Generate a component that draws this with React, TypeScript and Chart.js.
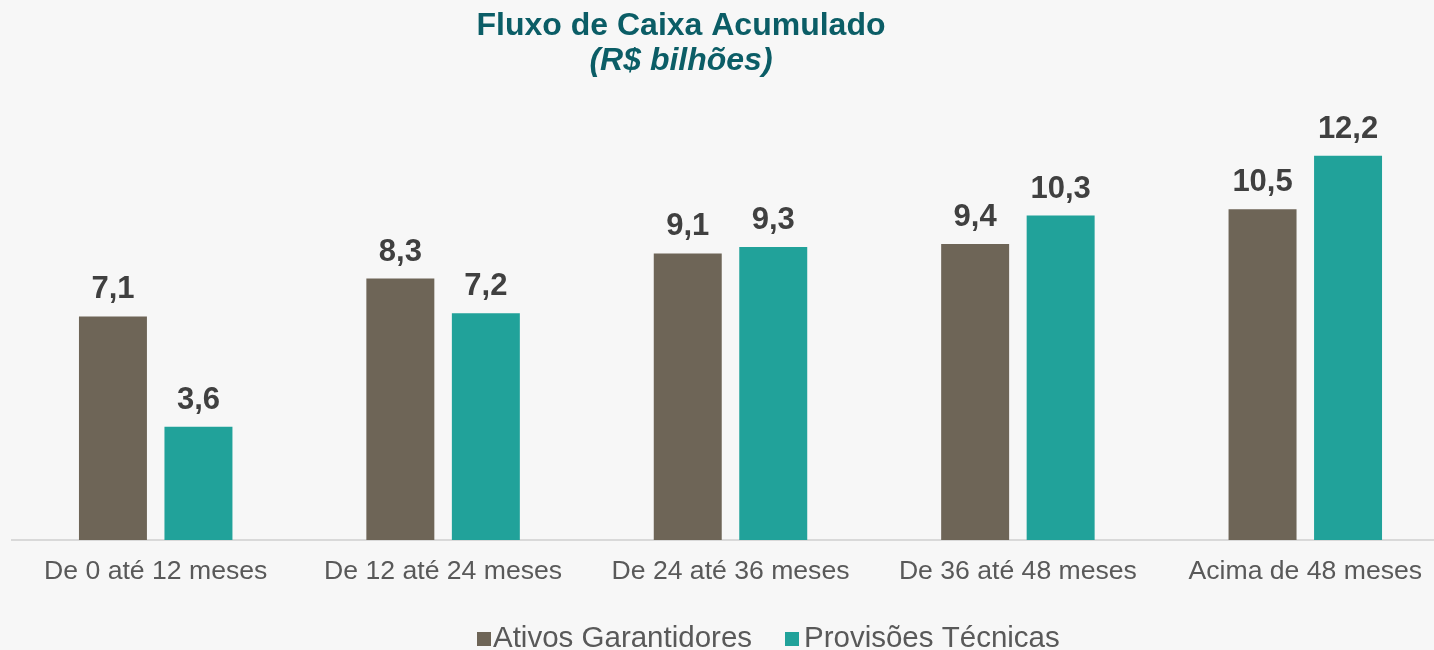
import React, { useEffect, useRef } from "react";
import { Chart, registerables } from "chart.js";

Chart.register(...registerables);

const categories = [
  "De 0 até 12 meses",
  "De 12 até 24 meses",
  "De 24 até 36 meses",
  "De 36 até 48 meses",
  "Acima de 48 meses",
];
const ativosGarantidores = [7.1, 8.3, 9.1, 9.4, 10.5];
const provisoesTecnicas = [3.6, 7.2, 9.3, 10.3, 12.2];
const seriesNames = ["Ativos Garantidores", "Provisões Técnicas"];
const seriesColors = ["#6e6557", "#21a29a"];
const titleText = "Fluxo de Caixa Acumulado";
const subtitleText = "(R$ bilhões)";

const FONT = "'Liberation Sans', Arial, sans-serif";

const fmt = (v: number) => v.toFixed(1).replace(".", ",");

const decorPlugin = {
  id: "decor",
  beforeDraw(chart: any) {
    const ctx = chart.ctx;
    ctx.save();
    ctx.fillStyle = "#f7f7f7";
    ctx.fillRect(0, 0, chart.width, chart.height);
    ctx.restore();
  },
  afterDatasetsDraw(chart: any) {
    const ctx = chart.ctx;
    ctx.save();
    ctx.font = `bold 31px ${FONT}`;
    ctx.fillStyle = "#404040";
    ctx.textAlign = "center";
    ctx.textBaseline = "alphabetic";
    chart.data.datasets.forEach((ds: any, i: number) => {
      const meta = chart.getDatasetMeta(i);
      meta.data.forEach((el: any, j: number) => {
        ctx.fillText(fmt(ds.data[j]), el.x, el.y - 18);
      });
    });
    ctx.restore();
  },
  afterDraw(chart: any) {
    const ctx = chart.ctx;
    ctx.save();
    // title
    ctx.fillStyle = "#0b5d66";
    ctx.textAlign = "center";
    ctx.textBaseline = "alphabetic";
    ctx.font = `bold 32px ${FONT}`;
    ctx.fillText(titleText, 681, 35);
    ctx.font = `italic bold 32px ${FONT}`;
    ctx.fillText(subtitleText, 681, 70);
    // legend
    ctx.font = `29.5px ${FONT}`;
    ctx.textAlign = "left";
    const boxX = [477, 785];
    const textX = [493, 804];
    seriesNames.forEach((name, i) => {
      ctx.fillStyle = seriesColors[i];
      ctx.fillRect(boxX[i], 632, 14, 14);
      ctx.fillStyle = "#595959";
      ctx.fillText(name, textX[i], 647);
    });
    ctx.restore();
  },
};

export default function App() {
  const ref = useRef<HTMLCanvasElement | null>(null);
  useEffect(() => {
    document.body.style.overflow = "hidden";
    document.body.style.background = "#f7f7f7";
    const chart = new Chart(ref.current!, {
      type: "bar",
      data: {
        labels: categories,
        datasets: [
          {
            label: seriesNames[0],
            data: ativosGarantidores,
            backgroundColor: seriesColors[0],
            categoryPercentage: 0.595,
            barPercentage: 0.795,
          },
          {
            label: seriesNames[1],
            data: provisoesTecnicas,
            backgroundColor: seriesColors[1],
            categoryPercentage: 0.595,
            barPercentage: 0.795,
          },
        ],
      },
      options: {
        responsive: false,
        animation: false,
        devicePixelRatio: 1,
        layout: { padding: { left: 12, right: 1, top: 99, bottom: 46 } },
        plugins: {
          legend: { display: false },
          title: { display: false },
          tooltip: { enabled: false },
        },
        scales: {
          x: {
            grid: { display: false, drawTicks: false },
            border: { display: true, color: "#d9d9d9", width: 2 },
            ticks: {
              color: "#595959",
              font: { family: FONT, size: 26.6 },
              padding: 16,
              maxRotation: 0,
              autoSkip: false,
            },
          },
          y: {
            display: false,
            min: 0,
            max: 14,
          },
        },
      },
      plugins: [decorPlugin],
    });
    return () => chart.destroy();
  }, []);
  return (
    <div style={{ position: "fixed", left: 0, top: 0, width: 1450, height: 650 }}>
      <canvas ref={ref} width={1450} height={650} style={{ display: "block" }} />
    </div>
  );
}
